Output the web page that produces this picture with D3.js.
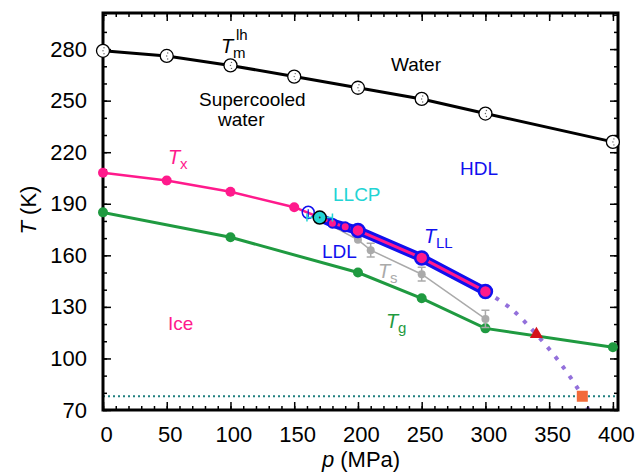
<!DOCTYPE html>
<html>
<head>
<meta charset="utf-8">
<style>
  body { margin: 0; background: #fff; }
  svg text { font-family: "Liberation Sans", Arial, sans-serif; }
</style>
</head>
<body>
<div id="chart"></div>
<script src="https://cdn.jsdelivr.net/npm/d3@7"></script>
<script>

	var w = 636, h = 476;

	// data
	var tmP = [0, 50, 100, 150, 200, 250, 300, 400],
		tmT = [279, 276, 270.5, 264, 257.5, 251, 242.5, 226];

	var txP = [0, 50, 100, 150, 170],
		txT = [208, 203.5, 197, 188, 182],
		txErr = [0, 1.8, 0, 0, 0];

	var hollowP = [161], hollowT = [185];
	var llcpP = [170], llcpT = [182], llcpErrP = [10];

	var tllP = [170, 180, 190, 200, 250, 300],
		tllT = [182, 178.7, 176.6, 174.5, 158.5, 139];

	var tsP = [170, 200, 210, 250, 300],
		tsT = [181, 169, 163, 149, 123],
		tsErr = [0, 0, 4, 4, 5];

	var tgP = [0, 100, 200, 250, 300, 400],
		tgT = [185, 170.5, 150, 135, 117.5, 106.5];

	var extP = [300, 320, 340, 360, 376, 382],
		extT = [139, 129, 114, 96, 78, 68];

	var triP = 340, triT = 113.5;
	var sqP = 376, sqT = 78;
	var ln2T = 78;

	var xTicks = d3.range(0, 401, 50),
		xMinor = d3.range(0, 401, 10),
		yTicks = d3.range(70, 281, 30),
		yMinor = d3.range(70, 301, 10);

	var svg = d3.select("#chart")
				.append("svg")
				.attr("width", w)
				.attr("height", h);

	var x = d3.scaleLinear().domain([0, 404]).range([103, 618]),
		y = d3.scaleLinear().domain([70, 301]).range([410, 13]);

	svg.append("defs").append("clipPath").attr("id", "plot")
		.append("rect").attr("x", 103).attr("y", 13).attr("width", 515).attr("height", 397);

	var line = d3.line().x(function(d) { return x(d[0]); }).y(function(d) { return y(d[1]); });
	function pairs(a, b) { return a.map(function(v, i) { return [v, b[i]]; }); }

	// lines are clipped, markers are not
	var g = svg.append("g").attr("clip-path", "url(#plot)");
	var m = svg.append("g");

	// liquid nitrogen line
	g.append("line")
		.attr("x1", x(0)).attr("x2", x(404))
		.attr("y1", y(ln2T)).attr("y2", y(ln2T))
		.attr("stroke", "#1f7f7f").attr("stroke-width", 2)
		.attr("stroke-dasharray", "2,3");

	// extrapolated TLL
	g.append("path")
		.attr("d", line.curve(d3.curveCatmullRom)(pairs(extP, extT)))
		.attr("fill", "none").attr("stroke", "#9370db")
		.attr("stroke-width", 4).attr("stroke-dasharray", "4,8");
	line.curve(d3.curveLinear);

	// Tg
	g.append("path").attr("d", line(pairs(tgP, tgT)))
		.attr("fill", "none").attr("stroke", "#1f9a40").attr("stroke-width", 3);
	m.selectAll(".tg").data(pairs(tgP, tgT)).enter().append("circle")
		.attr("cx", function(d) { return x(d[0]); })
		.attr("cy", function(d) { return y(d[1]); })
		.attr("r", 5).attr("fill", "#1f9a40");

	// Ts
	m.append("path").attr("d", line(pairs(tsP, tsT)))
		.attr("fill", "none").attr("stroke", "#aaaaaa").attr("stroke-width", 1.5);
	tsP.forEach(function(p, i) {
		if (i === 0) return;
		var e = tsErr[i];
		if (e > 0) {
			m.append("path")
				.attr("d", "M" + (x(p) - 4) + "," + y(tsT[i] + e) + "h8M" + x(p) + "," + y(tsT[i] + e) +
					"V" + y(tsT[i] - e) + "M" + (x(p) - 4) + "," + y(tsT[i] - e) + "h8")
				.attr("stroke", "#aaaaaa").attr("stroke-width", 1.5).attr("fill", "none");
		}
		m.append("circle").attr("cx", x(p)).attr("cy", y(tsT[i])).attr("r", 4).attr("fill", "#aaaaaa");
	});

	// Tx
	m.append("path").attr("d", line(pairs(txP, txT)))
		.attr("fill", "none").attr("stroke", "#ff1a8c").attr("stroke-width", 2.5);
	txP.forEach(function(p, i) {
		if (i === txP.length - 1) return;
		if (txErr[i] > 0) {
			m.append("path")
				.attr("d", "M" + (x(p) - 3) + "," + y(txT[i] + txErr[i]) + "h6M" + x(p) + "," + y(txT[i] + txErr[i]) +
					"V" + y(txT[i] - txErr[i]) + "M" + (x(p) - 3) + "," + y(txT[i] - txErr[i]) + "h6")
				.attr("stroke", "#ff1a8c").attr("stroke-width", 1.5);
		}
		m.append("circle").attr("cx", x(p)).attr("cy", y(txT[i])).attr("r", 5).attr("fill", "#ff1a8c");
	});

	// TLL
	m.append("path").attr("d", line(pairs(tllP, tllT)))
		.attr("fill", "none").attr("stroke", "#1010ee").attr("stroke-width", 9)
		.attr("stroke-linejoin", "round");
	m.append("path").attr("d", line(pairs(tllP, tllT)))
		.attr("fill", "none").attr("stroke", "#ff1a8c").attr("stroke-width", 3);
	tllP.forEach(function(p, i) {
		if (i === 0) return;
		var big = p >= 200;
		m.append("circle").attr("cx", x(p)).attr("cy", y(tllT[i]))
			.attr("r", big ? 6.5 : 4.5)
			.attr("fill", "#ff1a8c")
			.attr("stroke", "#1010ee").attr("stroke-width", big ? 2.5 : 2);
	});

	// hollow blue point
	m.append("path")
		.attr("d", "M" + x(hollowP[0]) + "," + (y(hollowT[0]) - 3) + "V" + (y(hollowT[0]) + 7))
		.attr("stroke", "#1010ee").attr("stroke-width", 1.2);
	m.append("circle").attr("cx", x(hollowP[0])).attr("cy", y(hollowT[0])).attr("r", 6)
		.attr("fill", "none").attr("stroke", "#1010ee").attr("stroke-width", 1.5);

	// LLCP
	var lx0 = x(llcpP[0] - llcpErrP[0]), lx1 = x(llcpP[0] + llcpErrP[0]), ly = y(llcpT[0]);
	m.append("path")
		.attr("d", "M" + lx0 + "," + ly + "H" + lx1 + "M" + lx0 + "," + (ly - 4) + "v8M" + lx1 + "," + (ly - 4) + "v8")
		.attr("stroke", "#22d4d4").attr("stroke-width", 1.5);
	m.append("circle").attr("cx", x(llcpP[0])).attr("cy", ly).attr("r", 6.5)
		.attr("fill", "#22d4d4").attr("stroke", "#000").attr("stroke-width", 1.5);
	m.append("circle").attr("cx", x(llcpP[0])).attr("cy", ly).attr("r", 0.9).attr("fill", "#333");

	// Tm
	g.append("path").attr("d", line(pairs(tmP, tmT)))
		.attr("fill", "none").attr("stroke", "#000").attr("stroke-width", 3);
	tmP.forEach(function(p, i) {
		var cx = x(p), cy = y(tmT[i]);
		m.append("circle").attr("cx", cx).attr("cy", cy).attr("r", 6.5)
			.attr("fill", "#fff").attr("stroke", "#000").attr("stroke-width", 1.3);
		[-3, 0, 3].forEach(function(o) {
			m.append("circle").attr("cx", cx + (o === 0 ? 0 : 1)).attr("cy", cy + o)
				.attr("r", 0.7).attr("fill", "#666");
		});
	});

	// triangle and square
	m.append("path")
		.attr("d", d3.symbol().type(d3.symbolTriangle).size(75)())
		.attr("transform", "translate(" + x(triP) + "," + (y(triT) - 1) + ")")
		.attr("fill", "#d4111b");
	m.append("rect")
		.attr("x", x(sqP) - 5.5).attr("y", y(sqT) - 5.5)
		.attr("width", 11).attr("height", 11)
		.attr("fill", "#f26b3a");

	// axes
	function styleAxis(sel) {
		sel.select(".domain").remove();
		sel.selectAll("line").attr("stroke", "#000").attr("stroke-width", 1.5);
		sel.selectAll("text").attr("font-size", 22).attr("fill", "#000")
			.style("font-family", "'Liberation Sans', Arial, sans-serif");
	}

	svg.append("g").attr("transform", "translate(0,410)")
		.call(d3.axisBottom(x).tickValues(xMinor).tickSizeInner(-4).tickSizeOuter(0).tickFormat(""))
		.call(styleAxis);
	svg.append("g").attr("transform", "translate(0,410)")
		.call(d3.axisBottom(x).tickValues(xTicks).tickSizeInner(-8).tickSizeOuter(0).tickPadding(16))
		.call(styleAxis)
		.selectAll("text").attr("dx", 3);
	svg.append("g").attr("transform", "translate(0,13)")
		.call(d3.axisTop(x).tickValues(xMinor).tickSizeInner(-4).tickSizeOuter(0).tickFormat(""))
		.call(styleAxis);
	svg.append("g").attr("transform", "translate(0,13)")
		.call(d3.axisTop(x).tickValues(xTicks).tickSizeInner(-8).tickSizeOuter(0).tickFormat(""))
		.call(styleAxis);

	svg.append("g").attr("transform", "translate(103,0)")
		.call(d3.axisLeft(y).tickValues(yMinor).tickSizeInner(-4).tickSizeOuter(0).tickFormat(""))
		.call(styleAxis);
	svg.append("g").attr("transform", "translate(103,0)")
		.call(d3.axisLeft(y).tickValues(yTicks).tickSizeInner(-8).tickSizeOuter(0).tickPadding(16))
		.call(styleAxis);
	svg.append("g").attr("transform", "translate(618,0)")
		.call(d3.axisRight(y).tickValues(yMinor).tickSizeInner(-4).tickSizeOuter(0).tickFormat(""))
		.call(styleAxis);
	svg.append("g").attr("transform", "translate(618,0)")
		.call(d3.axisRight(y).tickValues(yTicks).tickSizeInner(-8).tickSizeOuter(0).tickFormat(""))
		.call(styleAxis);

	svg.append("rect")
		.attr("x", 103).attr("y", 13).attr("width", 515).attr("height", 397)
		.attr("fill", "none").attr("stroke", "#000").attr("stroke-width", 3);

	// redraw edge markers above the frame
	svg.node().appendChild(m.node());

	// axis titles
	var yt = svg.append("text")
		.attr("transform", "translate(36,210) rotate(-90)")
		.attr("text-anchor", "middle").attr("font-size", 22);
	yt.append("tspan").attr("font-style", "italic").text("T");
	yt.append("tspan").text(" (K)");

	var xt = svg.append("text")
		.attr("x", 361).attr("y", 467)
		.attr("text-anchor", "middle").attr("font-size", 22);
	xt.append("tspan").attr("font-style", "italic").text("p");
	xt.append("tspan").text(" (MPa)");

	// labels
	function label(txt, lx, ly, color) {
		svg.append("text").attr("x", lx).attr("y", ly)
			.attr("font-size", 19).attr("fill", color).text(txt);
	}
	label("Supercooled", 199, 106, "#000");
	label("water", 218, 126, "#000");
	label("Water", 391, 71, "#000");
	label("HDL", 460, 175, "#1010ee");
	label("LLCP", 333, 201, "#22d4d4");
	label("LDL", 322, 258, "#1010ee");
	label("Ice", 168, 330, "#ff1a8c");

	function tsym(sub, lx, ly, color, sup) {
		svg.append("text").attr("x", lx).attr("y", ly)
			.attr("font-size", 20).attr("font-style", "italic").attr("fill", color).text("T");
		svg.append("text").attr("x", lx + 12).attr("y", ly + 5)
			.attr("font-size", 15).attr("fill", color).text(sub);
		if (sup) {
			svg.append("text").attr("x", lx + 15).attr("y", ly - 13)
				.attr("font-size", 15).attr("fill", color).text(sup);
		}
	}
	tsym("m", 221, 53, "#000", "lh");
	tsym("x", 168, 164, "#ff1a8c");
	tsym("LL", 424, 243, "#1010ee");
	tsym("s", 378, 278, "#aaaaaa");
	tsym("g", 386, 328, "#1f9a40");

</script>
</body>
</html>
